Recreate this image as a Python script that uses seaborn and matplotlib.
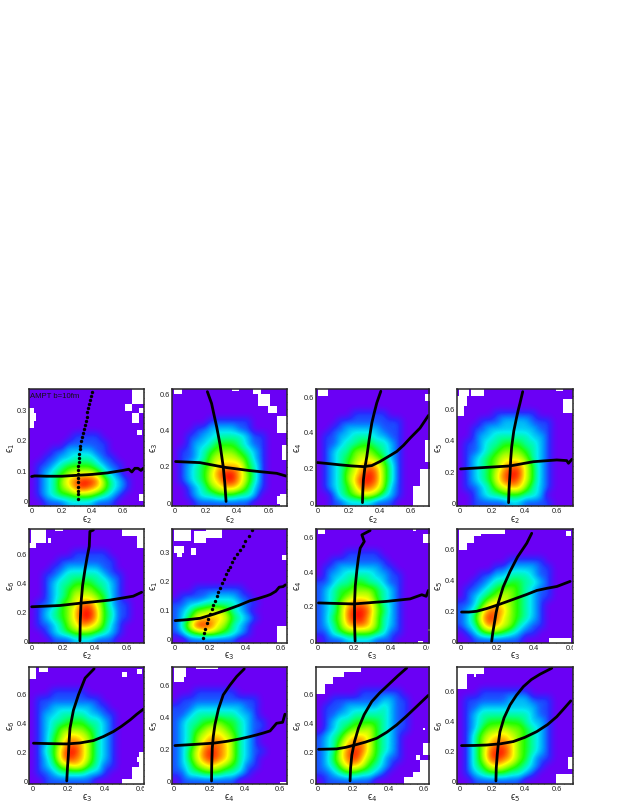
import numpy as np
import pandas as pd
import matplotlib
matplotlib.use("Agg")
import matplotlib.pyplot as plt
from matplotlib.colors import LinearSegmentedColormap, ListedColormap
from matplotlib.ticker import AutoMinorLocator, FixedLocator
from matplotlib.transforms import Bbox, TransformedBbox
import seaborn as sns

# density levels: 0 purple ... 9 red
D1 = ["0000000000000000","0000000000000000","0000000000000000","0000000000000000","0000000000000000","0000000000000000",
      "0000001111000000","0000011111100000","0001122221100000","0011223332110000","0112344443211000","0123456665321000",
      "0123578998532100","0123568987532100","0123445554321000","0011122221110000"]
D2 = ["0000000000000000","0000000000000000","0000000000000000","0000000000000000","0000011111100000","0001122221100000",
      "0011223333211000","0012234443211000","0112345554321000","0112356665421000","0123457777431000","0123468997531000",
      "0123467997531000","0012356776421000","0012334443320000","0001111111100000"]
D3 = ["0000000000000000","0000000000000000","0000000000000000","0000011111000000","0001111111110000","0011222221110000",
      "0112233322110000","0112334433210000","0123355543210000","0123456654210000","0123467875310000","0123568985310000",
      "0123579985310000","0123468875210000","0013456653210000","0011222211100000"]
D4 = ["0000000000000000","0000000000000000","0000000000000000","0000011111100000","0001112222111000","0011222222211000",
      "0012233333221000","0112334443321000","0112345554321000","0123456665321000","0123457886421000","0123468996421000",
      "0123468986421000","0112356775321000","0012334443320000","0011111221111000"]
D5 = ["0000000000000000","0000000000000000","0000000000000000","0000001111100000","0000111111110000","0001122222110000",
      "0011233333211000","0012334443321000","0012345554321000","0012346665421000","0112456886421100","0123457997431100",
      "0123457997431100","0112356876421000","0012345554321000","0001112221110000"]
D6 = ["0000000000000000","0000000000000000","0000000000000000","0000000000000000","0000000000000000","0000000000000000",
      "0000000000000000","0000000000000000","0001111111000000","0111122221100000","1122333332110000","1235566532100000",
      "1246777643210000","1369986532100000","1245665432100000","0011111110000000"]
D7 = ["0000000000000000","0000000000000000","0000000000000000","0000111110000000","0011111111000000","0112222221100000",
      "0122333322110000","1123344332110000","1234455543210000","1234566643210000","1235788753210000","1235899854210000",
      "1245899753210000","1235788753210000","1134555543110000","0111222211100000"]
D8 = ["0000000000000000","0000000000000000","0000000000000000","0000000000000000","0000000111110000","0000011222211000",
      "0001122333211000","0011233443321000","0112345543211000","0123456543211000","1124676543210000","1236887543210000",
      "1247986543210000","1236876532110000","0124554321100000","0011111110000000"]
D9 = ["0000000000000000","0000000000000000","0000000000000000","0001111100000000","0111111111000000","0112222221100000",
      "0122333322110000","0123344433210000","0123555543210000","0124577653210000","0124688753210000","0134799753210000",
      "0124798753210000","0123567643110000","0112333322100000","0011111110000000"]
D10 = ["0000000000000000","0000000000000000","0000000000000000","0001111110000000","0111111111110000","1112222222110000",
       "1123333332210000","1233445443211000","1234566543211000","1235677653210000","1235788753210000","1246898753211000",
       "1246898753210000","1235676543110000","1133444332100000","0111111110000000"]
D11 = ["0000000000000000","0000000000000000","0000000000000000","0000001111110000","0011111112211000","0111222223211000",
       "0112233333211000","0123344443211000","0123455643211000","1234677643210000","1235788643210000","1236898643210000",
       "1246897542110000","1235776432100000","1123443321000000","0111111100000000"]
D12 = ["0000000000000000","0000000000000000","0000000000000000","0001111111000000","0111111222111000","0112222222211000",
       "0123333333211000","0123444443221000","0124556554321000","0135677654321000","0135788754321000","0135899754321000",
       "0135898754211000","0134676543210000","0123444332100000","0011111110000000"]

# empty bins on a 48x48 grid: (first row, last row, first col, last col), row 0 at the top
E1 = [(0,5,43,47),(6,8,40,42),(8,9,46,47),(10,13,43,45),(17,18,45,46),(8,15,0,1),(10,12,2,2),(43,45,46,47)]
E2 = [(0,1,1,3),(0,0,25,27),(0,1,34,36),(2,6,36,40),(7,9,40,43),(11,17,44,47),(23,28,46,47),(43,47,45,47),(44,46,44,45)]
E3 = [(0,2,1,4),(2,4,46,47),(21,29,46,47),(33,39,44,47),(40,47,41,47)]
E4 = [(0,2,1,4),(0,2,6,10),(3,6,0,3),(6,10,0,2),(0,0,41,43),(4,9,44,47)]
E5 = [(0,5,1,6),(6,7,0,2),(0,0,11,13),(0,2,39,47),(3,7,45,47),(4,5,8,8)]
E6 = [(0,4,1,7),(1,5,9,13),(0,3,14,20),(7,9,1,4),(10,11,2,3),(8,10,8,9),(11,12,46,47),(41,47,44,47)]
E7 = [(0,1,1,3),(0,0,41,41),(2,5,45,47),(47,47,43,44),(42,42,47,47)]
E8 = [(0,2,1,9),(3,5,1,6),(6,8,1,3),(0,1,10,19),(1,2,45,46),(46,47,38,46)]
E9 = [(0,4,0,2),(0,1,4,7),(2,3,39,40),(1,2,45,46),(46,47,39,47),(41,46,43,47),(35,41,46,47),(37,38,45,45)]
E10 = [(0,3,1,5),(3,5,1,4),(0,0,10,18),(47,47,45,47)]
E11 = [(0,3,0,11),(3,6,0,6),(6,10,0,3),(0,1,11,18),(45,47,37,47),(43,45,41,47),(31,35,45,47),(36,37,42,43),(38,42,44,47),(25,25,45,45)]
E12 = [(0,8,0,3),(0,2,4,10),(3,3,7,7),(37,41,46,47),(44,47,41,47)]

# black profile curves: (x values, y values)
V1x = [.303,.303,.303,.303,.303,.304,.304,.305,.307,.309,.311,.314,.318,.322,.327,.333,.339,.346,.351,.356,.362,.368,.374,.379,.385,.392,.400]
V1y = [.01,.024,.037,.05,.064,.077,.09,.104,.118,.131,.145,.158,.172,.185,.199,.213,.226,.24,.253,.267,.28,.294,.308,.321,.335,.349,.362]
H1x = [0,.02,.1,.2,.3,.4,.5,.6,.64,.66,.68,.7,.72,.735]
H1y = [.083,.085,.084,.084,.087,.09,.095,.103,.107,.098,.11,.11,.103,.11]
V2x = [.328,.32,.31,.29,.268,.25,.235,.208]
V2y = [.01,.11,.20,.32,.42,.49,.55,.615]
H2x = [.004,.16,.32,.48,.653,.713]
H2y = [.23,.224,.198,.18,.165,.15]
V3x = [.29,.292,.296,.305,.318,.333,.35,.365,.382,.408]
V3y = [.006,.07,.134,.2,.266,.36,.455,.51,.568,.634]
H3x = [0,.07,.146,.22,.296,.35,.403,.455,.51,.555,.597,.66,.715]
H3y = [.232,.226,.219,.213,.209,.215,.238,.265,.294,.33,.37,.426,.498]
V4x = [.30,.303,.309,.313,.319,.332,.35,.36,.37,.387]
V4y = [.006,.1,.192,.28,.36,.46,.55,.595,.636,.71]
H4x = [.004,.165,.309,.453,.597,.658,.669,.69]
H4y = [.22,.23,.239,.266,.277,.273,.256,.281]
V5x = [.305,.307,.312,.322,.337,.35,.364,.366,.368,.39]
V5y = [.007,.14,.269,.39,.498,.58,.658,.71,.76,.77]
H5x = [0,.179,.326,.495,.642,.695]
H5y = [.242,.251,.269,.288,.315,.342]
V6x = [.162,.167,.174,.181,.191,.2,.209,.218,.228,.238,.247,.256,.268,.28,.29,.302,.312,.322,.334,.35,.368,.384,.398,.418,.438]
V6y = [.006,.022,.038,.057,.073,.09,.105,.12,.135,.15,.165,.178,.195,.21,.225,.24,.252,.266,.28,.295,.309,.324,.34,.358,.376]
H6x = [.004,.07,.144,.22,.293,.36,.423,.47,.517,.539,.569,.588,.61,.623]
H6y = [.066,.069,.074,.088,.103,.118,.134,.142,.151,.156,.167,.181,.183,.189]
V7x = [.205,.202,.202,.206,.215,.223,.233,.255,.242,.287]
V7y = [.004,.11,.223,.32,.413,.48,.537,.575,.613,.638]
H7x = [.005,.196,.378,.505,.569,.593,.605]
H7y = [.223,.217,.232,.246,.27,.261,.295]
V8x = [.169,.175,.184,.193,.205,.232,.269,.31,.36,.387]
V8y = [.004,.06,.124,.19,.254,.36,.46,.555,.644,.709]
H8x = [.005,.045,.087,.14,.196,.25,.305,.36,.415,.47,.524,.596]
H8y = [.195,.195,.2,.217,.239,.262,.286,.31,.336,.35,.362,.395]
V9x = [.191,.195,.2,.204,.209,.228,.256,.275,.293,.343]
V9y = [.005,.095,.183,.275,.367,.49,.596,.655,.711,.775]
H9x = [.006,.1,.191,.265,.339,.395,.45,.495,.543,.58,.617]
H9y = [.264,.261,.259,.266,.282,.31,.344,.38,.424,.463,.498]
V10x = [.211,.212,.215,.221,.23,.25,.277,.315,.353,.396]
V10y = [.004,.105,.209,.285,.356,.455,.544,.605,.659,.707]
H10x = [.004,.11,.221,.3,.372,.42,.466,.505,.542,.579,.613,.626]
H10y = [.226,.233,.241,.253,.268,.28,.293,.305,.318,.366,.372,.423]
V11x = [.183,.186,.193,.208,.23,.262,.305,.35,.398,.45,.501]
V11y = [.005,.095,.183,.275,.367,.46,.55,.61,.665,.725,.78]
H11x = [.006,.108,.16,.211,.27,.333,.39,.445,.5,.557,.622]
H11y = [.222,.225,.236,.252,.272,.298,.34,.39,.45,.516,.592]
V12x = [.222,.224,.23,.237,.247,.272,.309,.348,.391,.44,.494,.566]
V12y = [.004,.09,.178,.255,.333,.425,.511,.575,.633,.68,.716,.756]
H12x = [.01,.09,.165,.25,.329,.4,.473,.54,.597,.64,.683]
H12y = [.24,.241,.244,.252,.267,.295,.333,.38,.433,.485,.538]

X_LABELS = ["2","2","2","2","2","3","3","3","3","4","4","5"]
Y_LABELS = ["1","3","4","5","6","1","4","5","6","5","6","6"]
X_LIMS = [(-.015,.74),(-.017,.717),(-.011,.72),(-.016,.695),(-.015,.71),(-.012,.63),
          (-.01,.61),(-.018,.61),(-.017,.62),(-.011,.636),(-.01,.628),(-.016,.695)]
Y_LIMS = [(-.014,.37),(-.015,.628),(-.013,.645),(-.015,.725),(-.005,.775),(-.01,.38),
          (-.005,.645),(-.005,.735),(-.018,.785),(-.017,.717),(-.018,.785),(-.018,.762)]
DOTTED = [0, 5]
CLIPPED_X = [6, 7, 8]

sns.set_style("ticks")
plt.rcParams["font.family"] = ["Liberation Sans", "DejaVu Sans"]
plt.rcParams["mathtext.fontset"] = "dejavusans"

stops = [(0, "#6a00f5"), (.7, "#2a28ff"), (1.5, "#0090ff"), (2.4, "#00eef0"), (3.2, "#00ff90"),
         (4.2, "#20ff00"), (5.4, "#a8ff00"), (6.4, "#ffff00"), (7.6, "#ff9000"), (9, "#ff1000")]
levels_cmap = LinearSegmentedColormap.from_list("root_rainbow", [(p / 9, col) for p, col in stops], N=256)
white = ListedColormap(["white"])

panel_left = [(29.3, 144), (172.3, 286.7), (315.7, 429.3), (457.3, 572.7)]
panel_rows = [(389.3, 506), (529.3, 642.7), (667.3, 784.3)]
W, H = 623, 806
fig = plt.figure(figsize=(W / 100, H / 100), dpi=100)

DENS = [D1, D2, D3, D4, D5, D6, D7, D8, D9, D10, D11, D12]
EMPTY = [E1, E2, E3, E4, E5, E6, E7, E8, E9, E10, E11, E12]
VERT = [(V1x, V1y), (V2x, V2y), (V3x, V3y), (V4x, V4y), (V5x, V5y), (V6x, V6y),
        (V7x, V7y), (V8x, V8y), (V9x, V9y), (V10x, V10y), (V11x, V11y), (V12x, V12y)]
HORI = [(H1x, H1y), (H2x, H2y), (H3x, H3y), (H4x, H4y), (H5x, H5y), (H6x, H6y),
        (H7x, H7y), (H8x, H8y), (H9x, H9y), (H10x, H10y), (H11x, H11y), (H12x, H12y)]

def curve(ax, xs, ys, dotted):
    df = pd.DataFrame({"x": xs, "y": ys})
    if dotted:
        sns.scatterplot(data=df, x="x", y="y", ax=ax, color="black", s=6, linewidth=0, zorder=4)
    else:
        sns.lineplot(data=df, x="x", y="y", ax=ax, color="black", lw=2.0, sort=False,
                     estimator=None, zorder=4, solid_capstyle="round", solid_joinstyle="round")

for i in range(12):
    r, c = i // 4, i % 4
    x0, x1 = panel_left[c]
    y0, y1 = panel_rows[r]
    ax = fig.add_axes([x0 / W, 1 - y1 / H, (x1 - x0) / W, (y1 - y0) / H])
    lev = np.array([[int(ch) for ch in row] for row in DENS[i]], float)
    empty = np.zeros((48, 48), bool)
    for r0, r1, c0, c1 in EMPTY[i]:
        empty[r0:r1 + 1, c0:c1 + 1] = True
    ext = [X_LIMS[i][0], X_LIMS[i][1], Y_LIMS[i][0], Y_LIMS[i][1]]
    ax.imshow(lev, extent=ext, origin="upper", aspect="auto", cmap=levels_cmap, vmin=0, vmax=9,
              interpolation="bicubic", zorder=1)
    ax.imshow(np.ma.masked_where(~empty, np.ones((48, 48))), extent=ext, origin="upper", aspect="auto",
              cmap=white, interpolation="nearest", zorder=2)
    curve(ax, *VERT[i], i in DOTTED)
    curve(ax, *HORI[i], False)
    ax.set_xlim(X_LIMS[i])
    ax.set_ylim(Y_LIMS[i])
    ax.xaxis.set_major_locator(FixedLocator([0, .2, .4, .6]))
    ax.yaxis.set_major_locator(FixedLocator([0, .1, .2, .3] if i in DOTTED else [0, .2, .4, .6]))
    ax.xaxis.set_minor_locator(AutoMinorLocator(5))
    ax.yaxis.set_minor_locator(AutoMinorLocator(5))
    ax.set_xticklabels(["0", "0.2", "0.4", "0.6"])
    ax.set_yticklabels(["0", "0.1", "0.2", "0.3"] if i in DOTTED else ["0", "0.2", "0.4", "0.6"])
    ax.tick_params(which="major", direction="in", top=True, right=True, length=3, width=.6,
                   labelsize=5.3, pad=1.3, labelcolor="#222222")
    ax.tick_params(which="minor", direction="in", top=True, right=True, length=1.6, width=.5)
    for s in ax.spines.values():
        s.set_linewidth(1.1)
        s.set_visible(True)
        s.set_zorder(6)
    ax.set_xlabel("ϵ$_{%s}$" % X_LABELS[i], fontsize=7, color="#222222")
    ax.set_ylabel("ϵ$_{%s}$" % Y_LABELS[i], fontsize=7, color="#222222")
    ax.xaxis.set_label_coords(.5, -.07)
    ax.yaxis.set_label_coords(-.105, .5)
    if i in CLIPPED_X:
        clip = TransformedBbox(Bbox([[-.2, -.5], [1, 1]]), ax.transAxes)
        for lab in ax.get_xticklabels():
            lab.set_clip_box(clip)
            lab.set_clip_on(True)
    if i == 0:
        ax.text(.01, .965, "AMPT b=10fm", transform=ax.transAxes, fontsize=5.6, va="top", ha="left",
                color="#111111", zorder=7)

fig.savefig("out.png", dpi=100, facecolor="white")
